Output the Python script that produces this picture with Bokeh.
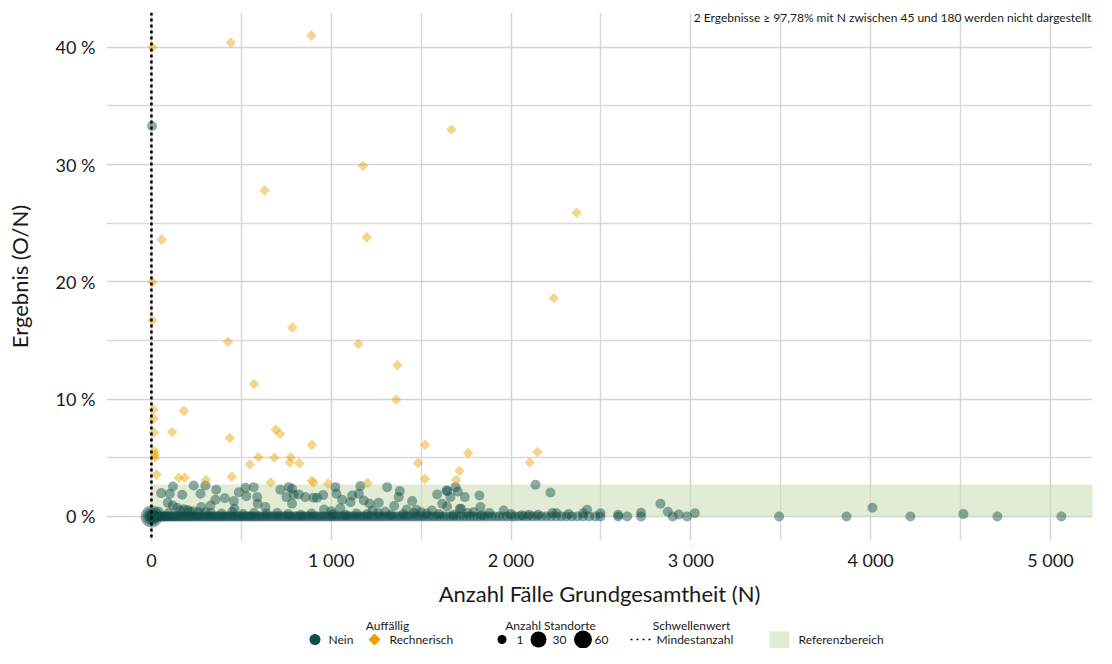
import math
from bokeh.plotting import figure
from bokeh.models import Range1d, FixedTicker, Span, Label
from bokeh.layouts import column
from bokeh.embed import file_html
from bokeh.resources import INLINE
from bokeh.core.properties import value

FONT = "Lato"

# ---------------- data ----------------
# stacked sites at small N with 0 % (N, count of sites)
stack_n = [1, 2, 3, 4, 5, 6, 7]
stack_y = [0, 0, 0, 0, 0, 0, 0]
stack_cnt = [60, 35, 20, 12, 8, 5, 3]

# Auffällig = Nein, results exactly 0 %
zero_n = [9, 13, 16, 21, 25, 30, 34, 41, 47, 52, 58, 66, 71, 79, 85, 93, 101, 108, 117, 124,
          133, 141, 150, 158, 167, 176, 184, 193, 205, 214, 222, 231, 243, 252, 261, 270, 282,
          291, 300, 312, 321, 333, 342, 351, 363, 372, 384, 395, 404, 416, 425, 437, 448, 459,
          470, 482, 493, 505, 516, 528, 539, 551, 560, 574, 585, 598, 610, 621, 634, 646, 659,
          671, 683, 696, 708, 721, 733, 746, 758, 771, 784, 796, 809, 822, 835, 847, 860, 873,
          886, 899, 912, 925, 938, 951, 964, 978, 991, 1004, 1018, 1031, 1045, 1058, 1072, 1086,
          1099, 1113, 1127, 1141, 1155, 1170, 1184, 1198, 1213, 1227, 1242, 1257, 1271, 1286,
          1301, 1316, 1332, 1347, 1362, 1378, 1393, 1409, 1425, 1441, 1457, 1473, 1489, 1506,
          1522, 1539, 1556, 1573, 1590, 1607, 1625, 1643, 1661, 1679, 1697, 1716, 1734, 1753,
          1772, 1792, 1811, 1831, 1851, 1871, 1892, 1913, 1934, 1956, 1978, 2003, 2023, 2046,
          2070, 2094, 2119, 2144, 2170, 2196, 2223, 2251, 2279, 2308, 2338, 2369, 2401, 2434,
          2468, 2497, 2596, 2646, 2723, 2899, 2979, 3491, 3866, 4221, 4705, 5061]

# Auffällig = Nein, results above 0 % (N, result in %)
band_n = [3, 54, 102, 120, 171, 91, 119, 143, 180, 200, 230, 260, 300, 235, 273, 300, 360, 408,
          356, 328, 276, 458, 486, 523, 569, 528, 588, 591, 462, 634, 717, 764, 782, 751, 791,
          819, 782, 856, 901, 921, 955, 960, 1000, 1023, 1029, 1050, 1061, 1107, 1162, 1153, 1116,
          1181, 1214, 1230, 1264, 1300, 1311, 1350, 1381, 1375, 1420, 1450, 1474, 1500, 1560,
          1589, 1645, 1691, 1663, 1617, 1715, 1641, 1704, 1743, 1824, 1830, 1644, 1722, 1793,
          1880, 1959, 2000, 2100, 2136, 2219, 2253, 2401, 2423, 2497, 2596, 2723, 2831, 2872,
          2933, 3022, 4010, 4516,
          40, 95, 160, 210, 330, 390, 450, 510, 570, 640, 700, 760, 830, 890, 1010, 1080, 1140,
          1200, 1260, 1330, 1400, 1460, 1530, 1600, 1680, 1760, 1840, 2060, 2150, 2230, 2320]
band_y = [33.3, 1.99, 1.93, 2.56, 1.85, 1.16, 0.94, 0.74, 0.62, 0.55, 0.45, 0.38, 0.35, 2.64, 1.93,
          2.64, 2.27, 1.56, 1.42, 0.94, 0.80, 1.31, 2.07, 2.44, 2.5, 1.73, 1.65, 1.08, 0.65, 0.80,
          2.27, 2.5, 2.36, 1.65, 1.85, 1.88, 1.08, 1.65, 1.6, 1.59, 1.82, 0.6, 0.45, 2.5, 1.93,
          0.7, 1.42, 1.22, 2.59, 1.93, 1.79, 1.36, 1.08, 0.5, 1.16, 0.4, 2.5, 0.9, 2.16, 1.65,
          0.6, 1.31, 0.57, 0.35, 0.5, 1.88, 2.16, 2.5, 1.65, 1.08, 0.65, 2.22, 2.13, 1.65, 1.79,
          0.8, 0.85, 0.65, 0.37, 0.3, 0.51, 0.2, 0.15, 2.7, 2.05, 0.28, 0.28, 0.57, 0.28, 0.14,
          0.31, 1.08, 0.4, 0.17, 0.28, 0.75, 0.2,
          0.4, 0.3, 0.5, 0.45, 0.3, 0.25, 0.4, 0.2, 0.3, 0.25, 0.3, 0.2, 0.15, 0.25, 0.2, 0.15,
          0.25, 0.2, 0.3, 0.15, 0.2, 0.3, 0.25, 0.2, 0.15, 0.3, 0.1, 0.1, 0.15, 0.3, 0.2]

# Auffällig = Rechnerisch (N, result in %)
orange_n = [5, 441, 890, 1669, 1176, 630, 2364, 57, 1198, 5, 6, 2238, 784, 425, 1151, 1368, 571,
            1361, 11, 180, 12, 14, 115, 691, 716, 436, 892, 1521, 2147, 1761, 18, 19, 20, 595, 684,
            775, 770, 823, 547, 1483, 2104, 1713, 28, 152, 185, 447, 304, 892, 901, 1521, 1695,
            663, 982, 1203]
orange_y = [40.0, 40.4, 41.0, 33.0, 29.9, 27.8, 25.9, 23.6, 23.8, 20.0, 16.7, 18.6, 16.1, 14.9,
            14.7, 12.9, 11.3, 9.95, 9.1, 9.0, 8.33, 7.14, 7.2, 7.4, 7.05, 6.7, 6.1, 6.1, 5.5, 5.4,
            5.56, 5.26, 5.0, 5.05, 5.0, 5.05, 4.6, 4.55, 4.45, 4.55, 4.6, 3.9, 3.57, 3.3, 3.3, 3.4,
            3.1, 3.05, 2.9, 3.2, 3.1, 2.9, 2.8, 2.85]

x_ticks = [0, 1000, 2000, 3000, 4000, 5000]
x_tick_labels = ["0", "1 000", "2 000", "3 000", "4 000", "5 000"]
x_minor = [500, 1500, 2500, 3500, 4500]
y_ticks = [0, 10, 20, 30, 40]
y_tick_labels = ["0 %", "10 %", "20 %", "30 %", "40 %"]
y_minor = [5, 15, 25, 35]

ref_low, ref_high = 0.0, 2.73
ref_x_start, ref_x_end = 0, 5265
mindestanzahl = 0

note = "2 Ergebnisse \u2265 97,78% mit N zwischen 45 und 180 werden nicht dargestellt."

TEAL = "#0f4d47"
ORANGE = "#e8a200"
TXT = "#1a1a1a"


def size_for(cnt):
    return math.sqrt(93.5 + 6.5 * cnt)


# ---------------- main plot ----------------
W = 1096
BL, BR = 106, 4
MAIN_H = 614
p = figure(width=W, height=MAIN_H, x_range=Range1d(-250, 5234), y_range=Range1d(-2.05, 42.97),
           output_backend="svg", toolbar_location=None,
           min_border_left=BL, min_border_right=BR, min_border_top=12,
           min_border_bottom=MAIN_H - 540)
p.outline_line_color = None

p.xaxis.ticker = FixedTicker(ticks=x_ticks, minor_ticks=x_minor)
p.yaxis.ticker = FixedTicker(ticks=y_ticks, minor_ticks=y_minor)
p.xaxis.major_label_overrides = {t: l for t, l in zip(x_ticks, x_tick_labels)}
p.yaxis.major_label_overrides = {t: l for t, l in zip(y_ticks, y_tick_labels)}

for ax in (p.xaxis, p.yaxis):
    ax.axis_line_color = None
    ax.major_tick_line_color = None
    ax.minor_tick_line_color = None
    ax.major_tick_out = 0
    ax.major_tick_in = 0
    ax.minor_tick_out = 0
    ax.minor_tick_in = 0
    ax.major_label_text_font = FONT
    ax.major_label_text_font_size = "18px"
    ax.major_label_text_color = TXT
    ax.axis_label_text_font = FONT
    ax.axis_label_text_font_size = "22px"
    ax.axis_label_text_font_style = "normal"
    ax.axis_label_text_color = TXT

p.xaxis.axis_label = "Anzahl Fälle Grundgesamtheit (N)"
p.yaxis.axis_label = "Ergebnis (O/N)"
p.xaxis.major_label_standoff = 8
p.xaxis.axis_label_standoff = 6
p.yaxis.major_label_standoff = 11
p.yaxis.axis_label_standoff = 20

for g in (p.xgrid, p.ygrid):
    g.grid_line_color = "#d4d4d4"
    g.grid_line_width = 1.5
    g.minor_grid_line_color = "#d9d9d9"
    g.minor_grid_line_width = 1.5

# reference range
p.quad(left=[ref_x_start], right=[ref_x_end], bottom=[ref_low], top=[ref_high],
       fill_color="#cfdfb7", fill_alpha=0.6, line_color=None)

# points
p.scatter(zero_n, [0] * len(zero_n), size=size_for(1), marker="circle",
          fill_color=TEAL, fill_alpha=0.46, line_color=None)
p.scatter(band_n, band_y, size=size_for(1), marker="circle",
          fill_color=TEAL, fill_alpha=0.46, line_color=None)
p.scatter(stack_n, stack_y, size=[size_for(c) for c in stack_cnt], marker="circle",
          fill_color=TEAL, fill_alpha=0.46, line_color=None)
p.scatter(orange_n, orange_y, size=7.5, marker="square", angle=math.pi / 4,
          fill_color=ORANGE, fill_alpha=0.45, line_color=None)

p.add_layout(Span(location=mindestanzahl, dimension="height", line_color="black",
                  line_width=2.5, line_dash="3 3"))

p.add_layout(Label(x=5245, y=42.54, text=note, text_align="right", text_baseline="middle",
                   text_font=FONT, text_font_size="12px", text_color=TXT))

# ---------------- legend strip (x in page pixels, y from bottom) ----------------
LH = 648 - MAIN_H
leg = figure(width=W, height=LH, x_range=Range1d(BL, W - BR), y_range=Range1d(0, LH),
             output_backend="svg", toolbar_location=None,
             min_border_left=BL, min_border_right=BR, min_border_top=0, min_border_bottom=0)
leg.axis.visible = False
leg.xgrid.visible = False
leg.ygrid.visible = False
leg.outline_line_color = None

TY = 23
IY = 9
titles = ["Auffällig", "Anzahl Standorte", "Schwellenwert"]
title_x = [387, 550, 691]
leg.text(x=title_x, y=[TY] * 3, text=titles, text_font=value(FONT), text_font_size="12px",
         text_align="center", text_baseline="middle", text_color=TXT)

leg.scatter([314.5], [IY], size=11, marker="circle", fill_color=TEAL, line_color=None)
leg.scatter([374], [IY], size=8.5, marker="square", angle=math.pi / 4,
            fill_color="#e69f00", line_color=None)
leg.scatter([501.5, 538, 582.5], [IY] * 3, size=[9, 16, 18], marker="circle",
            fill_color="black", line_color=None)
leg.line([630, 652], [IY, IY], line_color="black", line_width=1.5, line_dash="2 4")
leg.quad(left=[769], right=[789], bottom=[0], top=[17], fill_color="#e2ecd4", line_color=None)

item_text = ["Nein", "Rechnerisch", "1", "30", "60", "Mindestanzahl", "Referenzbereich"]
item_x = [328, 389, 516, 552, 594, 656, 798]
leg.text(x=item_x, y=[IY] * len(item_x), text=item_text, text_font=value(FONT),
         text_font_size="12px", text_align="left", text_baseline="middle", text_color=TXT)

layout = column(p, leg)
open("out.html", "w").write(file_html(layout, INLINE))
